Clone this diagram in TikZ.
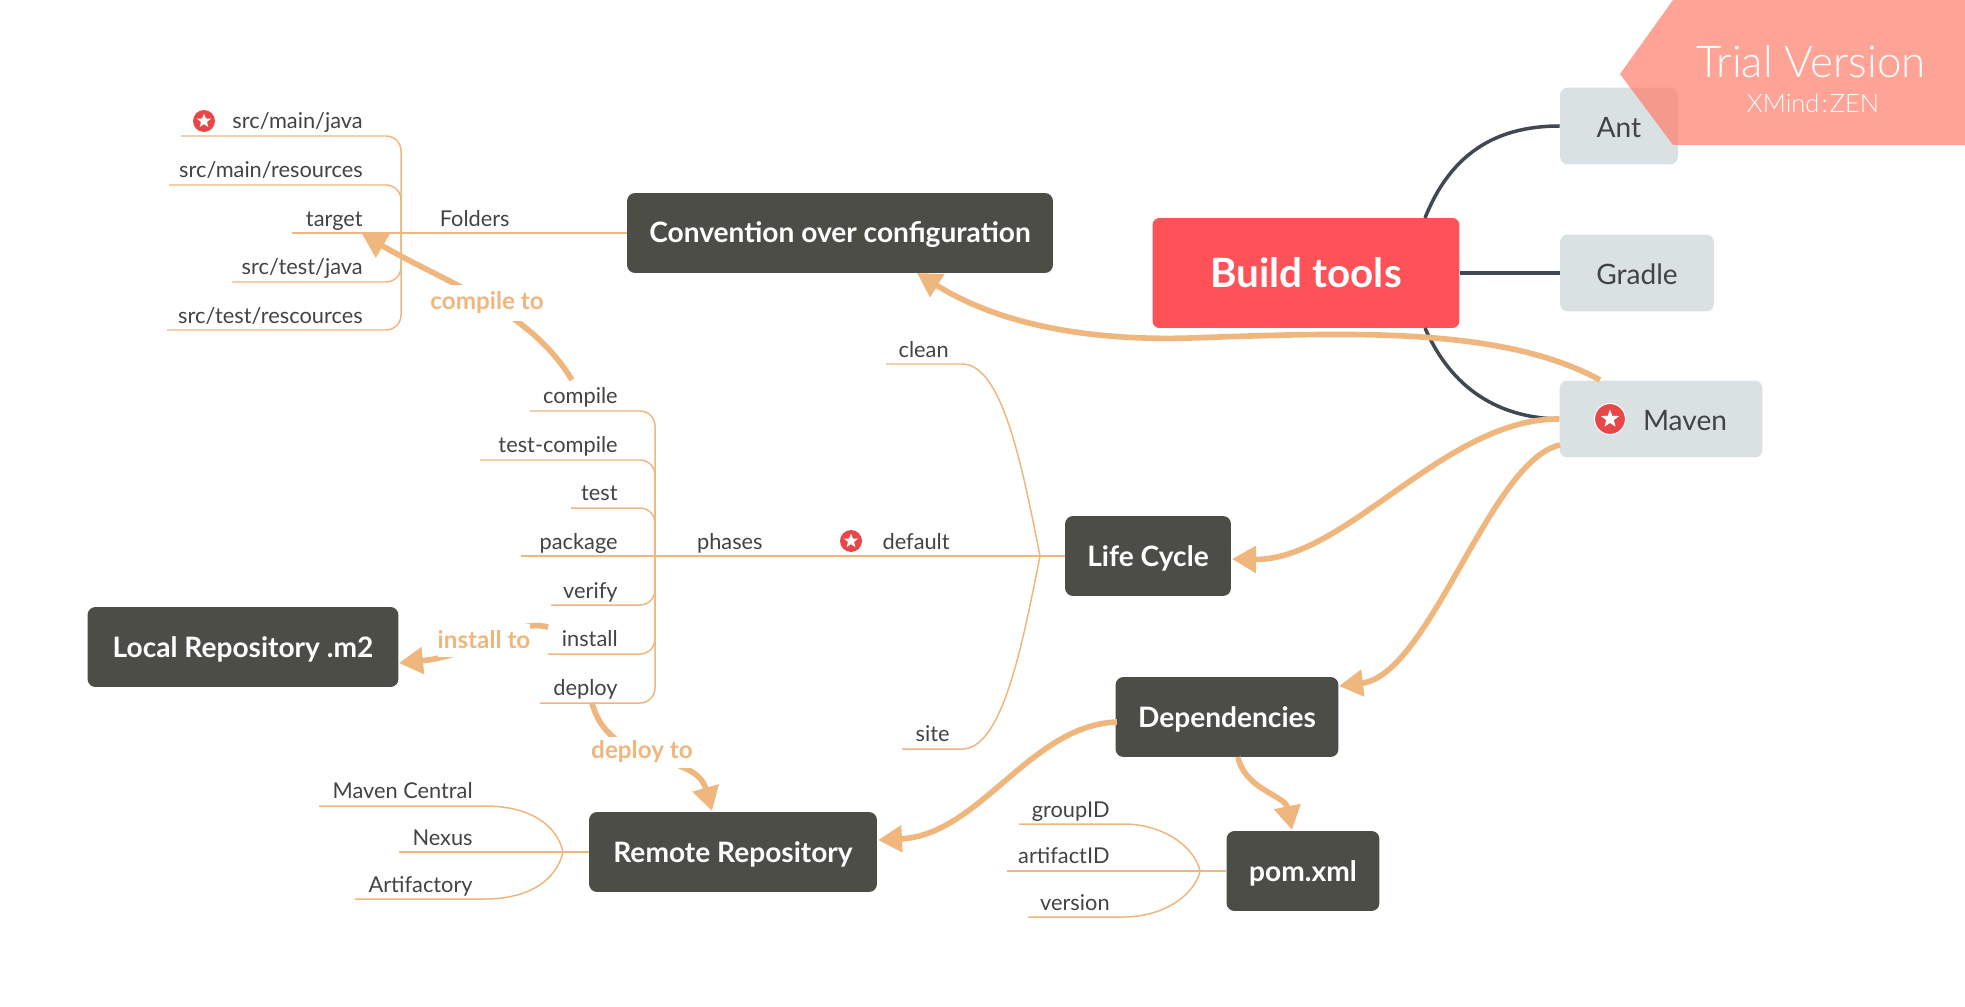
\documentclass[tikz,border=0pt]{standalone}
\usepackage{fontspec}
\setmainfont{Lato}
\newfontfamily\lightfont{Lato Light}
\usetikzlibrary{shapes.geometric, arrows.meta, positioning}
\definecolor{flowcol}{HTML}{EFB67E}
\definecolor{darkbox}{HTML}{4D4D48}
\definecolor{greybox}{HTML}{DAE1E2}
\definecolor{rootred}{HTML}{FF5258}
\definecolor{rootline}{HTML}{414853}
\definecolor{inktext}{HTML}{434343}
\definecolor{staricon}{HTML}{E8474A}
\definecolor{bannercol}{HTML}{FF7C69}
\tikzset{
    rootbox/.style={rectangle, rounded corners=0.14cm, fill=rootred, text=white, inner sep=0pt, text height=0.6cm, text depth=0pt, font=\fontsize{23}{26}\selectfont\bfseries},
    topicbox/.style={rectangle, rounded corners=0.16cm, fill=darkbox, text=white, inner sep=0pt, minimum height=1.6cm, text height=0.4cm, text depth=0pt, font=\fontsize{16}{19}\selectfont\bfseries},
    greytopic/.style={rectangle, rounded corners=0.16cm, fill=greybox, text=inktext, inner sep=0pt, minimum height=1.54cm, text height=0.46cm, text depth=0pt, font=\fontsize{16}{19}\selectfont},
    leaflabel/.style={anchor=base east, inner sep=0pt, text=inktext, font=\fontsize{12.4}{15}\selectfont},
    flowlabel/.style={fill=white, inner sep=0pt, text=flowcol, font=\fontsize{13.8}{16}\selectfont\bfseries},
    leafline/.style={draw=flowcol, line width=0.85pt},
    flowline/.style={draw=flowcol, line width=3.2pt, -{Triangle[length=0.48cm, width=0.52cm]}},
    rootedge/.style={draw=rootline, line width=2pt},
    starbadge/.style={circle, fill=staricon, inner sep=0pt, minimum size=0.44cm},
    starmark/.style={star, star points=5, star point ratio=2.4, fill=white, inner sep=0pt, minimum size=0.3cm}
}
\begin{document}
\begin{tikzpicture}[x=0.02cm, y=-0.02cm]
    \useasboundingbox (0,0) rectangle (1965,1007);

    % topics
    \node[rootbox, minimum width=6.14cm, minimum height=2.2cm] (build) at (1306,273) {Build tools};
    \node[greytopic, minimum width=2.36cm] (ant) at (1619,126) {Ant};
    \node[greytopic, minimum width=3.08cm] (gradle) at (1637,273) {Gradle};
    \node[greytopic, minimum width=4.06cm] (maven) at (1661,419) {\hspace*{0.96cm}Maven};
    \node[topicbox, minimum width=8.52cm] (convention) at (840,233) {Convention over configuration};
    \node[topicbox, minimum width=3.32cm] (lifecycle) at (1148,556) {Life Cycle};
    \node[topicbox, minimum width=4.46cm] (dependencies) at (1227,717) {Dependencies};
    \node[topicbox, minimum width=3.06cm] (pom) at (1303,871) {pom.xml};
    \node[topicbox, minimum width=5.76cm] (remote) at (733,852) {Remote Repository};
    \node[topicbox, minimum width=6.22cm] (local) at (243,647) {Local Repository .m2};

    % root edges
    \coordinate (rootup) at (1425,218);
    \coordinate (rootdown) at (1425,328);
    \draw[rootedge] (rootup) .. controls (1452,150) and (1500,126) .. (ant.west);
    \draw[rootedge, line width=2.4pt] (build.east) -- (gradle.west);
    \draw[rootedge] (rootdown) .. controls (1452,390) and (1500,418) .. (maven.west);

    % folders
    \coordinate (foldjoin) at (401,233);
    \coordinate (foldend) at (292,233);
    \coordinate (smj) at (181,136);
    \coordinate (smr) at (169,185);
    \coordinate (stj) at (232,282);
    \coordinate (str) at (167,330);
    \draw[leafline] (convention.west) -- (foldend);
    \draw[leafline, rounded corners=0.3cm] (smj) -| (foldjoin);
    \draw[leafline, rounded corners=0.3cm] (smr) -| (foldjoin);
    \draw[leafline, rounded corners=0.3cm] (stj) -| (foldjoin);
    \draw[leafline, rounded corners=0.3cm] (str) -| (foldjoin);
    \node[leaflabel] (lsmj) at (363,129) {src/main/java};
    \node[leaflabel] (lsmr) at (363,177) {src/main/resources};
    \node[leaflabel] (ltarget) at (363,226) {target};
    \node[leaflabel] (lstj) at (363,274) {src/test/java};
    \node[leaflabel] (lstr) at (363,323) {src/test/rescources};
    \node[leaflabel] (lfolders) at (510,226) {Folders};

    % life cycle
    \coordinate (lifejoin) at (1040,556);
    \coordinate (phasejoin) at (655,556);
    \coordinate (pkgend) at (521,556);
    \coordinate (cleanend) at (886,364);
    \coordinate (siteend) at (902,749);
    \coordinate (pcompile) at (530,411);
    \coordinate (ptestc) at (480,460);
    \coordinate (ptest) at (571,508);
    \coordinate (pverify) at (551,605);
    \coordinate (pinstall) at (548,654);
    \coordinate (pdeploy) at (540,703);
    \draw[leafline] (lifecycle.west) -- (pkgend);
    \draw[leafline] (cleanend) -- (962,364) .. controls (1002,364) and (1022,465) .. (lifejoin);
    \draw[leafline] (siteend) -- (962,749) .. controls (1002,749) and (1022,647) .. (lifejoin);
    \draw[leafline, rounded corners=0.3cm] (pcompile) -| (phasejoin);
    \draw[leafline, rounded corners=0.3cm] (ptestc) -| (phasejoin);
    \draw[leafline, rounded corners=0.3cm] (ptest) -| (phasejoin);
    \draw[leafline, rounded corners=0.3cm] (pverify) -| (phasejoin);
    \draw[leafline, rounded corners=0.3cm] (pinstall) -| (phasejoin);
    \draw[leafline, rounded corners=0.3cm] (pdeploy) -| (phasejoin);
    \node[leaflabel] (lclean) at (949,357) {clean};
    \node[leaflabel] (lsite) at (950,741) {site};
    \node[leaflabel] (ldefault) at (950,549) {default};
    \node[leaflabel] (lphases) at (763,549) {phases};
    \node[leaflabel] (lcompile) at (618,403) {compile};
    \node[leaflabel] (ltestc) at (618,452) {test-compile};
    \node[leaflabel] (ltest) at (618,500) {test};
    \node[leaflabel] (lpackage) at (618,549) {package};
    \node[leaflabel] (lverify) at (618,598) {verify};
    \node[leaflabel] (linstall) at (618,646) {install};
    \node[leaflabel] (ldeploy) at (618,695) {deploy};

    % repositories
    \coordinate (repojoin) at (563,852);
    \coordinate (rcentral) at (319,806);
    \coordinate (rnexus) at (399,852);
    \coordinate (rarti) at (355,899);
    \draw[leafline, line width=1.6pt] (remote.west) -- (repojoin);
    \draw[leafline] (repojoin) -- (rnexus);
    \draw[leafline] (rcentral) -- (485,806) .. controls (530,806) and (557,825) .. (repojoin);
    \draw[leafline] (rarti) -- (485,899) .. controls (530,899) and (557,879) .. (repojoin);
    \node[leaflabel] (lcentral) at (473,798) {Maven Central};
    \node[leaflabel] (lnexus) at (473,845) {Nexus};
    \node[leaflabel] (larti) at (473,892) {Artifactory};

    % pom
    \coordinate (pomjoin) at (1200,871);
    \coordinate (pgroup) at (1019,824);
    \coordinate (partifact) at (1007,871);
    \coordinate (pversion) at (1028,917);
    \draw[leafline] (pom.west) -- (partifact);
    \draw[leafline] (pgroup) -- (1123,824) .. controls (1165,824) and (1195,848) .. (pomjoin);
    \draw[leafline] (pversion) -- (1123,917) .. controls (1165,917) and (1195,894) .. (pomjoin);
    \node[leaflabel] (lgroup) at (1110,817) {groupID};
    \node[leaflabel] (lartifact) at (1110,863) {artifactID};
    \node[leaflabel] (lversion) at (1110,910) {version};

    % relations
    \coordinate (mavenout) at (1600,380);
    \coordinate (conventionin) at (917,273);
    \coordinate (mavenmid) at (1190,338);
    \draw[flowline] (mavenout) .. controls (1500,325) and (1340,333) .. (mavenmid) .. controls (1090,341) and (1000,325) .. (conventionin);
    \coordinate (lifein) at (1232,559);
    \draw[flowline] (maven.west) .. controls (1445,418) and (1345,561) .. (lifein);
    \coordinate (mavenlow) at (1560,445);
    \coordinate (depin) at (1339,686);
    \draw[flowline] (mavenlow) .. controls (1490,460) and (1430,675) .. (depin);
    \coordinate (depleft) at (1117,722);
    \coordinate (remoteright) at (878,840);
    \draw[flowline] (depleft) .. controls (1030,725) and (980,835) .. (remoteright);
    \coordinate (depout) at (1238,757);
    \coordinate (pomin) at (1292,830);
    \draw[flowline] (depout) .. controls (1245,790) and (1285,795) .. (pomin);

    % labelled relations
    \coordinate (compileout) at (572,380);
    \coordinate (targetin) at (362,234);
    \draw[flowline] (compileout) .. controls (530,310) and (450,285) .. (targetin);
    \node[flowlabel, minimum height=0.74cm] (compileto) at (487,303) {compile to};
    \coordinate (installout) at (548,627);
    \coordinate (localin) at (399,663);
    \draw[flowline] (installout) .. controls (510,618) and (480,655) .. (localin);
    \node[flowlabel, minimum height=0.66cm] (installto) at (484,640) {install to};
    \coordinate (deployout) at (592,703);
    \coordinate (remotein) at (712,811);
    \draw[flowline] (deployout) .. controls (610,770) and (695,750) .. (remotein);
    \node[flowlabel, minimum height=0.62cm] (deployto) at (642,752) {deploy to};

    % markers
    \node[starbadge, draw=white, line width=0.6pt, minimum size=0.62cm] (badgemaven) at (1610,419) {};
    \node[starmark, minimum size=0.38cm] at (badgemaven) {};
    \node[starbadge] (badgejava) at (204,121) {};
    \node[starmark] at (badgejava) {};
    \node[starbadge] (badgedefault) at (851,541) {};
    \node[starmark] at (badgedefault) {};

    % trial banner
    \fill[bannercol, fill opacity=0.7] (1673,0) -- (1620,74) -- (1673,145) -- (1965,145) -- (1965,0) -- cycle;
    \node[text=white, inner sep=0pt, font=\lightfont\fontsize{25}{29}\selectfont] (trial) at (1811,62) {Trial Version};
    \node[text=white, inner sep=0pt, font=\lightfont\fontsize{14.5}{17}\selectfont] (xmind) at (1813,103) {XMind\kern1.2pt:\kern1.2pt ZEN};
\end{tikzpicture}
\end{document}
